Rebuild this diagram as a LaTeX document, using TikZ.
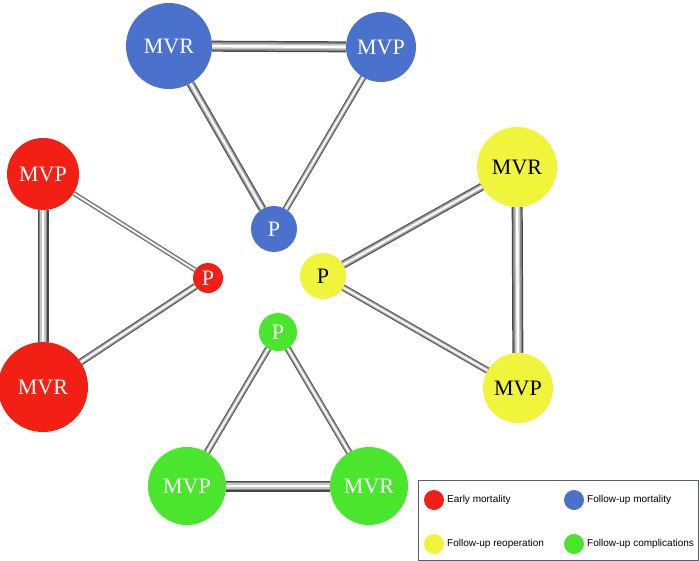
\documentclass[tikz,border=0pt]{standalone}
\usepackage{fontspec}
\setmainfont{Liberation Serif}
\newfontfamily\legfont{Liberation Sans}
\definecolor{cred}{RGB}{242,32,20}
\definecolor{cblue}{RGB}{74,114,204}
\definecolor{cyel}{RGB}{240,245,60}
\definecolor{cgreen}{RGB}{74,230,46}
\definecolor{legborder}{RGB}{90,90,120}
\newcommand\tube[3]{%
  \pgfmathsetmacro\tubeA{#3}%
  \pgfmathsetmacro\tubeB{0.78*#3}%
  \pgfmathsetmacro\tubeC{0.5*#3}%
  \pgfmathsetmacro\tubeD{0.22*#3}%
  \draw[line width=\tubeA pt, color=black!72] (#1) -- (#2);
  \draw[line width=\tubeB pt, color=black!48] (#1) -- (#2);
  \draw[line width=\tubeC pt, color=black!22] (#1) -- (#2);
  \draw[line width=\tubeD pt, color=white] (#1) -- (#2);
}
\begin{document}
\begin{tikzpicture}[x=1pt,y=-1pt,
  ball/.style={circle, inner sep=0pt, font=\fontsize{22}{25}\selectfont},
  legdot/.style={circle, inner sep=0pt, minimum size=20pt},
  legtext/.style={anchor=west, inner sep=0pt, font=\legfont\fontsize{10}{12}\selectfont}]
\useasboundingbox (0,0) rectangle (700,561);
\fill[white] (0,0) rectangle (700,561);
% blue
\node[ball, fill=cblue, text=white, minimum size=86pt] (bMVR) at (169,46) {MVR};
\node[ball, fill=cblue, text=white, minimum size=70pt] (bMVP) at (381,47) {MVP};
\node[ball, fill=cblue, text=white, minimum size=46pt] (bP) at (274,229) {P};
% red
\node[ball, fill=cred, text=white, minimum size=72pt] (rMVP) at (43,174) {MVP};
\node[ball, fill=cred, text=white, minimum size=90pt] (rMVR) at (43,387) {MVR};
\node[ball, fill=cred, text=white, minimum size=30pt] (rP) at (208,278) {P};
% yellow
\node[ball, fill=cyel, text=black, minimum size=80pt] (yMVR) at (517,167) {MVR};
\node[ball, fill=cyel, text=black, minimum size=70pt] (yMVP) at (518,388) {MVP};
\node[ball, fill=cyel, text=black, minimum size=46pt] (yP) at (323,276) {P};
% green
\node[ball, fill=cgreen, text=white, minimum size=38pt] (gP) at (278,332) {P};
\node[ball, fill=cgreen, text=white, minimum size=78pt] (gMVP) at (187,486) {MVP};
\node[ball, fill=cgreen, text=white, minimum size=78pt] (gMVR) at (369,486) {MVR};
% edges
\tube{bMVR}{bMVP}{11}
\tube{bMVR}{bP}{8}
\tube{bMVP}{bP}{6.5}
\tube{rMVP}{rMVR}{11}
\tube{rMVP}{rP}{4.5}
\tube{rMVR}{rP}{7}
\tube{yMVR}{yP}{8}
\tube{yMVP}{yP}{6.5}
\tube{yMVR}{yMVP}{11}
\tube{gP}{gMVP}{6.5}
\tube{gP}{gMVR}{6.5}
\tube{gMVP}{gMVR}{11}
% legend
\draw[legborder, line width=1pt] (418,480) rectangle (698,560);
\node[legdot, fill=cred] (l1) at (434,500) {};
\node[legtext] (t1) at (447,500) {Early mortality};
\node[legdot, fill=cblue] (l2) at (574,500) {};
\node[legtext] (t2) at (587,500) {Follow-up mortality};
\node[legdot, fill=cyel] (l3) at (434,544) {};
\node[legtext] (t3) at (447,544) {Follow-up reoperation};
\node[legdot, fill=cgreen] (l4) at (574,544) {};
\node[legtext] (t4) at (587,544) {Follow-up complications};
\end{tikzpicture}
\end{document}
